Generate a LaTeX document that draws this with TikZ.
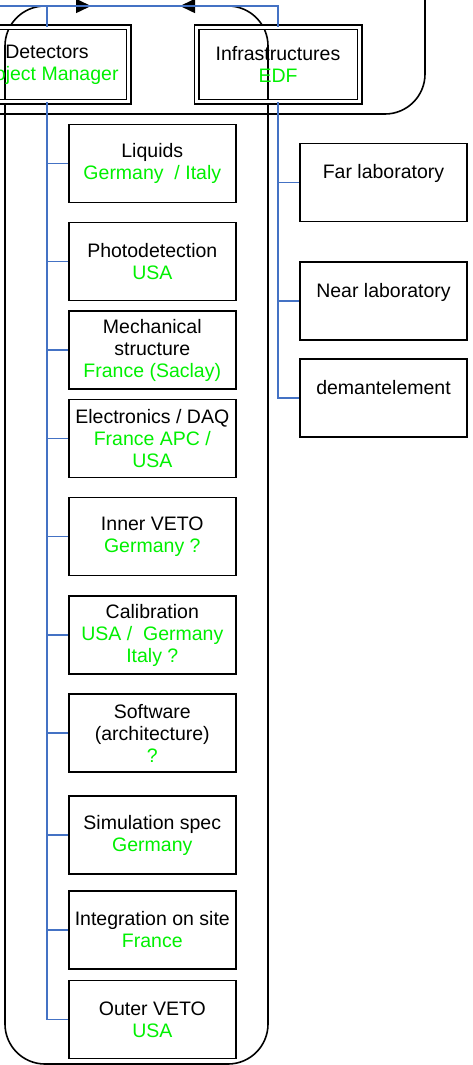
\documentclass[tikz,border=0pt]{standalone}
\usepackage{fontspec}
\setmainfont{Liberation Sans}
\usetikzlibrary{arrows.meta}
\definecolor{lgreen}{RGB}{0,240,0}
\definecolor{cblue}{RGB}{68,114,196}
\tikzset{
  box/.style={draw=black, line width=1.5pt, fill=white, minimum width=167pt, minimum height=78pt, inner sep=0pt, align=center, font=\fontsize{19.5}{22}\selectfont},
  dbox/.style={draw=black, line width=1.5pt, double=white, double distance=3pt, minimum width=163pt, minimum height=74pt, inner sep=0pt, align=center, font=\fontsize{19.5}{22}\selectfont},
  conn/.style={draw=cblue, line width=1.5pt},
  frame/.style={draw=black, line width=1.6pt, rounded corners=40pt}
}
\newcommand{\gr}[1]{\textcolor{lgreen}{#1}}
\begin{document}
\begin{tikzpicture}[x=1pt,y=-1pt]
\useasboundingbox (0,0) rectangle (472,1065);
% frames
\coordinate (fa) at (180,6);
\coordinate (fb) at (91,6);
\draw[frame, {Triangle[length=15pt,width=14pt]}-{Triangle[length=15pt,width=14pt]}] (fa) -- (268,6) -- (268,1064) -- (5,1064) -- (5,6) -- (fb);
\coordinate (ra) at (425,-30);
\coordinate (rb) at (-30,114);
\draw[frame] (ra) -- (425,114) -- (rb);
% top boxes
\node[dbox] (det) at (47,64.5) {Detectors\\\gr{Project Manager}};
\node[dbox] (inf) at (278,64.5) {Infrastructures\\\gr{EDF}};
% top blue line
\coordinate (bl) at (-5,6);
\draw[conn] (inf.north) |- (bl);
\draw[conn] (det.north) -- (det.north |- bl);
% detector children
\node[box] (c1) at (152.3,163.5) {Liquids\\\gr{Germany \ / Italy}};
\node[box] (c2) at (152.3,261.5) {Photodetection\\\gr{USA}};
\node[box] (c3) at (152.3,350) {Mechanical\\structure\\\gr{France (Saclay)}};
\node[box] (c4) at (152.3,438.5) {Electronics / DAQ\\\gr{France APC /}\\\gr{USA}};
\node[box] (c5) at (152.3,536.5) {Inner VETO\\\gr{Germany ?}};
\node[box] (c6) at (152.3,635) {Calibration\\\gr{USA / \ Germany}\\\gr{Italy ?}};
\node[box] (c7) at (152.3,733) {Software\\(architecture)\\\gr{?}};
\node[box] (c8) at (152.3,835) {Simulation spec\\\gr{Germany}};
\node[box] (c9) at (152.3,930) {Integration on site\\\gr{France}};
\node[box] (c10) at (152.3,1019.5) {Outer VETO\\\gr{USA}};
\foreach \n in {c1,c2,c3,c4,c5,c6,c7,c8,c9,c10}{
  \draw[conn] (det.south) |- (\n.west);
}
% infrastructure children
\node[box] (r1) at (383.5,182.5) {Far laboratory\\\mbox{}};
\node[box] (r2) at (383.5,301) {Near laboratory\\\mbox{}};
\node[box] (r3) at (383.5,398) {demantelement\\\mbox{}};
\foreach \n in {r1,r2,r3}{
  \draw[conn] (inf.south) |- (\n.west);
}
\end{tikzpicture}
\end{document}
